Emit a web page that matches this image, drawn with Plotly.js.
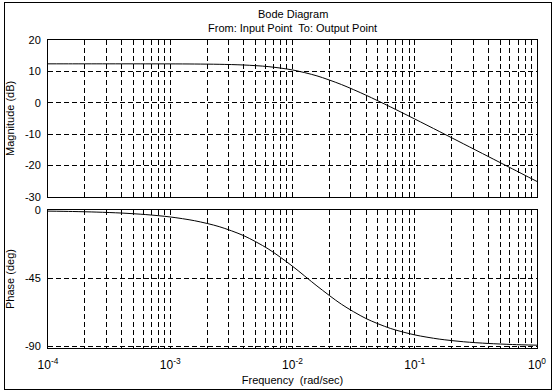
<!DOCTYPE html>
<html>
<head>
<meta charset="utf-8">
<script src="https://cdn.plot.ly/plotly-3.0.1.min.js"></script>
<style>
html,body{margin:0;padding:0;background:#fff;}
#wrap{position:relative;width:554px;height:392px;}
#chart{position:absolute;left:0;top:0;width:554px;height:392px;}
#frame{position:absolute;left:4px;top:2px;width:546px;height:386px;border:1px solid #000;pointer-events:none;}
</style>
</head>
<body>
<div id="wrap"><div id="chart"></div><div id="frame"></div></div>
<script>
// Frequency samples (rad/sec)
const frequency = [1e-4, 1.585e-4, 2.512e-4, 3.981e-4, 6.31e-4, 1e-3, 1.585e-3, 2.512e-3, 3.981e-3, 6.31e-3,
  0.01, 0.01585, 0.02512, 0.03981, 0.0631, 0.1, 0.1585, 0.2512, 0.3981, 0.631, 1];
// Magnitude (dB)
const magnitude = [12.4, 12.4, 12.4, 12.4, 12.39, 12.38, 12.34, 12.25, 12.03, 11.52,
  10.45, 8.56, 5.80, 2.42, -1.31, -5.20, -9.15, -13.14, -17.13, -21.12, -25.12];
// Phase (deg)
const phase = [-0.43, -0.68, -1.08, -1.71, -2.72, -4.30, -6.80, -10.70, -16.66, -25.38,
  -36.94, -50.0, -62.1, -71.53, -78.10, -82.42, -85.20, -86.97, -88.09, -88.79, -89.24];
// Tick values and labels
const freqTicks = [1e-4, 1e-3, 1e-2, 1e-1, 1];
const freqTickText = ['10<sup>-4</sup>', '10<sup>-3</sup>', '10<sup>-2</sup>', '10<sup>-1</sup>', '10<sup>0</sup>'];
const magTicks = [-30, -20, -10, 0, 10, 20];
const magTickText = ['-30', '-20', '-10', '0', '10', '20'];
const phaseTicks = [-90, -45, 0];
const phaseTickText = ['-90', '-45', '0'];

const font = {family: 'Liberation Sans, Arial, sans-serif', size: 11, color: '#000'};
const xFont = {family: 'Liberation Sans, Arial, sans-serif', size: 12, color: '#000'};
const gridStyle = {gridcolor: '#000', gridwidth: 1, griddash: '5px,3px'};

const xCommon = {
  type: 'log', range: [-4, 0], tickvals: freqTicks, ticktext: freqTickText, showgrid: true,
  gridcolor: '#000', gridwidth: 1, griddash: '5px,3px',
  minor: {dtick: 'D1', showgrid: true, gridcolor: '#000', gridwidth: 1, griddash: '5px,3px', ticks: ''},
  showline: true, linecolor: '#000', linewidth: 1, mirror: true,
  ticks: '', zeroline: false, tickfont: xFont
};

const traces = [
  {x: frequency, y: magnitude, xaxis: 'x2', yaxis: 'y', type: 'scatter', mode: 'lines',
   line: {color: '#000', width: 1, shape: 'spline', smoothing: 0.8}, hoverinfo: 'skip'},
  {x: frequency, y: phase, xaxis: 'x', yaxis: 'y2', type: 'scatter', mode: 'lines',
   line: {color: '#000', width: 1, shape: 'spline', smoothing: 0.8}, hoverinfo: 'skip'}
];

const layout = {
  width: 554, height: 392,
  margin: {l: 48, r: 17, t: 40, b: 44},
  paper_bgcolor: '#fff', plot_bgcolor: '#fff',
  showlegend: false, font: font,
  xaxis: Object.assign({}, xCommon, {anchor: 'y2', ticklabelstandoff: 6,
    title: {text: 'Frequency  (rad/sec)', font: font, standoff: 4}}),
  xaxis2: Object.assign({}, xCommon, {anchor: 'y', matches: 'x', showticklabels: false}),
  yaxis: Object.assign({}, gridStyle, {domain: [0.491, 1], anchor: 'x2', range: [-30, 20],
    tickvals: magTicks, ticktext: magTickText, showgrid: true, showline: true, linecolor: '#000', mirror: true,
    ticks: '', zeroline: false, tickfont: font, ticklabelstandoff: 4,
    title: {text: 'Magnitude (dB)', font: font, standoff: 8}}),
  yaxis2: Object.assign({}, gridStyle, {domain: [0, 0.448], anchor: 'x', range: [-91.1, 0.3],
    tickvals: phaseTicks, ticktext: phaseTickText, showgrid: true, showline: true, linecolor: '#000', mirror: true,
    ticks: '', zeroline: false, tickfont: font, ticklabelstandoff: 4,
    title: {text: 'Phase (deg)', font: font, standoff: 8}}),
  annotations: [
    {text: 'Bode Diagram', xref: 'paper', yref: 'paper', x: 0.5, y: 1, yshift: 26,
     xanchor: 'center', yanchor: 'middle', showarrow: false, font: font},
    {text: 'From: Input Point  To: Output Point', xref: 'paper', yref: 'paper', x: 0.5, y: 1, yshift: 12,
     xanchor: 'center', yanchor: 'middle', showarrow: false, font: font}
  ]
};

Plotly.newPlot('chart', traces, layout, {displayModeBar: false, staticPlot: true});
</script>
</body>
</html>
